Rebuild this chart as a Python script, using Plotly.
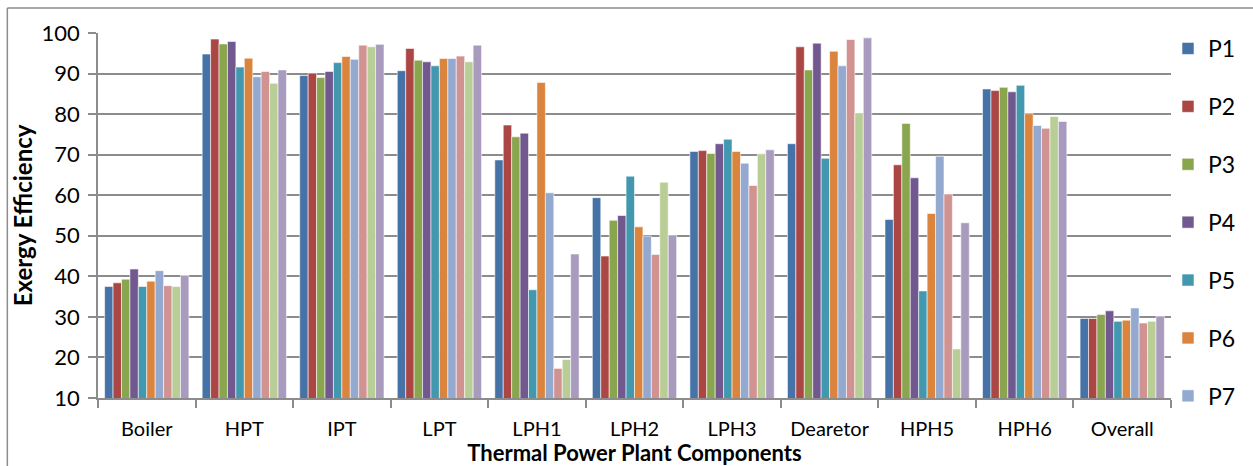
import plotly.graph_objects as go

categories = ["Boiler", "HPT", "IPT", "LPT", "LPH1", "LPH2", "LPH3", "Dearetor", "HPH5", "HPH6", "Overall"]
series_names = ["P1", "P2", "P3", "P4", "P5", "P6", "P7", "P8", "P9", "P10"]

P1 = [37.5, 94.8, 89.5, 90.7, 68.7, 59.4, 70.8, 72.7, 54.0, 86.2, 29.6]
P2 = [38.4, 98.5, 90.1, 96.2, 77.3, 45.0, 71.0, 96.6, 67.5, 85.8, 29.6]
P3 = [39.3, 97.3, 89.0, 93.3, 74.4, 53.8, 70.3, 90.9, 77.7, 86.6, 30.6]
P4 = [41.8, 97.9, 90.5, 92.9, 75.3, 55.0, 72.7, 97.5, 64.3, 85.5, 31.5]
P5 = [37.5, 91.6, 92.7, 91.9, 36.7, 64.7, 73.8, 69.1, 36.4, 87.1, 28.9]
P6 = [38.8, 93.8, 94.2, 93.7, 87.8, 52.2, 70.8, 95.5, 55.5, 80.1, 29.2]
P7 = [41.4, 89.2, 93.5, 93.7, 60.6, 49.9, 67.9, 91.9, 69.6, 77.2, 32.2]
P8 = [37.7, 90.5, 97.0, 94.3, 17.3, 45.4, 62.4, 98.4, 60.3, 76.5, 28.5]
P9 = [37.5, 87.6, 96.6, 92.9, 19.5, 63.2, 70.2, 80.3, 22.1, 79.4, 28.9]
P10 = [40.2, 90.9, 97.2, 97.0, 45.5, 50.2, 71.2, 98.8, 53.2, 78.2, 30.2]

series_values = [P1, P2, P3, P4, P5, P6, P7, P8, P9, P10]
colors = ["#4572A7", "#AA4643", "#89A54E", "#71588F", "#4198AF",
          "#DB843D", "#93A9CF", "#D19392", "#B9CD96", "#A99BBD"]

FONT = "Lato, 'Open Sans', sans-serif"

fig = go.Figure()
for i, (name, vals) in enumerate(zip(series_names, series_values)):
    fig.add_trace(go.Bar(
        x=categories, y=vals, name=name,
        marker=dict(color=colors[i], line=dict(color="rgba(255,255,255,0.7)", width=0.8)),
        legendgroup=name,
        showlegend=(i < 7),
    ))

W, H = 1253, 466
L, R, T, B = 98, 78, 33, 68
pw, ph = W - L - R, H - T - B

def px_x(px):
    return (px - L) / pw

def px_y(py):
    return (H - B - py) / ph

fig.update_layout(
    width=W, height=H,
    margin=dict(l=L, r=R, t=T, b=B),
    paper_bgcolor="white", plot_bgcolor="white",
    barmode="group", bargap=0.136, bargroupgap=0,
    font=dict(family=FONT, size=22, color="black"),
    xaxis=dict(
        type="category",
        showline=True, linecolor="#8c8c8c", linewidth=1.5,
        ticks="outside", tickson="boundaries", ticklen=8, tickcolor="#8c8c8c", tickwidth=1.5,
        tickfont=dict(size=20), ticklabelstandoff=12,
        title=dict(text="<b>Thermal Power Plant Components</b>", font=dict(size=22), standoff=0),
        showgrid=False,
    ),
    yaxis=dict(
        range=[10, 100], dtick=10, tick0=10,
        showline=True, linecolor="#8c8c8c", linewidth=1.5,
        ticks="outside", ticklen=8, tickcolor="#8c8c8c", tickwidth=1.5,
        showgrid=True, gridcolor="#8c8c8c", gridwidth=1.5,
        tickfont=dict(size=22), ticklabelstandoff=4,
        title=dict(text="<b>Exergy Efficiency</b>", font=dict(size=24), standoff=2),
        zeroline=False,
    ),
    legend=dict(
        x=px_x(1172), xanchor="left", y=px_y(27), yanchor="top",
        font=dict(size=23), tracegroupgap=25, itemwidth=30,
        bgcolor="rgba(0,0,0,0)", maxheight=460,
    ),
    shapes=[
        dict(type="line", xref="paper", yref="paper",
             x0=px_x(7), x1=px_x(1260), y0=px_y(8), y1=px_y(8),
             line=dict(color="#8c8c8c", width=1.5)),
        dict(type="line", xref="paper", yref="paper",
             x0=px_x(7), x1=px_x(7), y0=px_y(8), y1=px_y(470),
             line=dict(color="#8c8c8c", width=1.5)),
    ],
)

fig.write_html("out.html")
